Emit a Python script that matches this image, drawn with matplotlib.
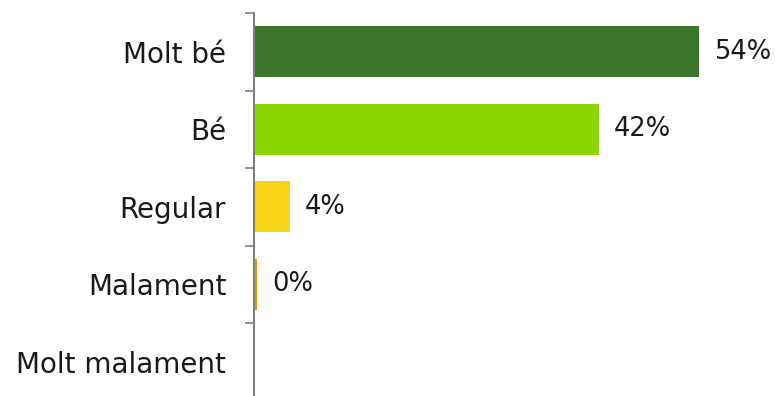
import matplotlib.pyplot as plt

# Valoració de les respostes (percentatges)
categories = ["Molt bé", "Bé", "Regular", "Malament", "Molt malament"]
values = [53.6, 41.6, 4.3, 0.4, 0.0]
labels = ["54%", "42%", "4%", "0%", ""]
colors = ["#3b762b", "#8cd600", "#f9d517", "#f39200", "#c00000"]

plt.rcParams['font.family'] = ['DejaVu Sans']

fig = plt.figure(figsize=(7.75, 3.96), dpi=100)
ax = fig.add_axes([254 / 775, -4.5 / 396, 1 - 254 / 775, 387.5 / 396])

ypos = list(range(len(categories)))
ax.barh(ypos, values, height=0.66, color=colors, zorder=2)
ax.set_ylim(len(categories) - 0.5, -0.5)
ax.set_xlim(0, 62.8)

for y, v, lab in zip(ypos, values, labels):
    if lab:
        ax.text(v + 1.8, y, lab, va='center', ha='left', fontsize=18.5, color='#1a1a1a')

# category labels between the boundary ticks
ax.set_yticks([y - 0.5 for y in ypos] + [len(categories) - 0.5])
ax.set_yticklabels([])
ax.set_yticks(ypos, minor=True)
ax.set_yticklabels(categories, minor=True, fontsize=20, color='#1a1a1a')
ax.tick_params(axis='y', which='major', length=6.5, width=1.2, color='#7f7f7f')
ax.tick_params(axis='y', which='minor', length=0, pad=20)

ax.set_xticks([])
for side in ['top', 'right', 'bottom']:
    ax.spines[side].set_visible(False)
ax.spines['left'].set_color('#7f7f7f')
ax.spines['left'].set_linewidth(1.5)

fig.savefig('out.png', dpi=100, facecolor='white')
